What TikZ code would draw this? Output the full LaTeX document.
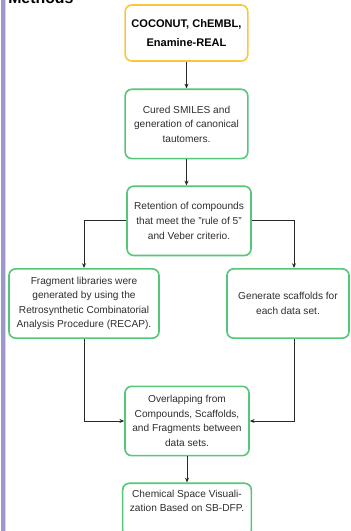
\documentclass[tikz,border=0pt]{standalone}
\usepackage{fontspec}
\setmainfont{Liberation Sans}
\usetikzlibrary{arrows.meta,positioning}
\definecolor{boxgreen}{RGB}{86,198,120}
\definecolor{boxyellow}{RGB}{250,198,64}
\definecolor{barblue}{RGB}{156,152,202}
\definecolor{linegray}{RGB}{40,40,40}

\begin{document}
\begin{tikzpicture}[x=0.75pt,y=-0.75pt,
    box/.style={rectangle,rounded corners=5pt,draw=boxgreen,line width=1.2pt,
      fill=white,inner sep=2pt,minimum width=92pt,minimum height=52pt,
      align=center,text=black!82,font=\fontsize{7.6}{10.9}\selectfont},
    to/.style={-{Stealth[length=3.6pt,width=3pt]}, draw=linegray, line width=0.6pt},
    every node/.style={align=center}]

  \useasboundingbox (0,0) rectangle (350,531);
  \fill[barblue] (1,0) rectangle (4.5,531);
  \fill[barblue!40] (4.5,0) rectangle (6,531);
  \node[anchor=base west,inner sep=0pt,font=\fontsize{11.9}{14}\selectfont\bfseries] (head) at (8,4) {Methods};

  \newcommand{\gap}{20pt}
  \node[box,draw=boxyellow,minimum height=42pt,text=black,
    font=\fontsize{8.3}{14.6}\selectfont\bfseries] (src) at (186.5,33) {COCONUT, ChEMBL,\\Enamine-REAL};
  \node[box,below=\gap of src] (cure) {Cured SMILES and\\generation of canonical\\tautomers.};
  \node[box,below=19.5pt of cure,xshift=1.9pt,minimum width=93pt] (filt) {Retention of compounds\\
    that meet the "rule of 5"\\and Veber criterio.};
  \node[box,minimum width=112.5pt] (frag) at (84,303.5) {Fragment libraries were\\
    generated by using the\\Retrosynthetic Combinatorial\\Analysis Procedure (RECAP).};
  \node[box,minimum width=91.5pt] (scaf) at (288,303.5) {Generate scaffolds for\\each data set.};
  \node[box,minimum width=93pt] (over) at (187,421) {Overlapping from\\Compounds, Scaffolds,\\
    and Fragments between\\data sets.};
  \node[box,below=19.5pt of over,minimum width=96.5pt,minimum height=40.5pt] (viz)
    {Chemical Space Visuali-\\zation Based on SB-DFP.\\ \strut};

  \draw[to] (src) -- (cure);
  \draw[to] (cure.south) -- (cure.south |- filt.north);
  \draw[to] (filt.west) -| (frag.north);
  \draw[to] (filt.east) -| ([xshift=4.5pt]scaf.north);
  \draw[to] (frag.south) |- (over.west);
  \draw[to] ([xshift=4.5pt]scaf.south) |- (over.east);
  \draw[to] (over) -- (viz);

\end{tikzpicture}
\end{document}
